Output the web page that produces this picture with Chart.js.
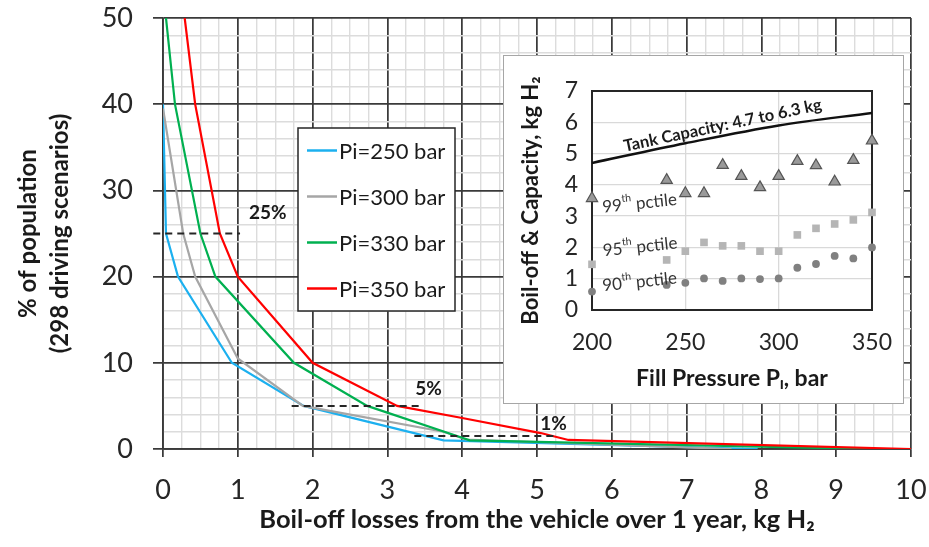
<!DOCTYPE html>
<html>
<head>
<meta charset="utf-8">
<script src="https://cdn.jsdelivr.net/npm/chart.js@4"></script>
<style>
    body { margin: 0; background: #fff; }
    #wrap { position: relative; width: 929px; height: 547px; }
    #inset { position: absolute; left: 503px; top: 55px; width: 401px; height: 349px;
             background: #fff; border: 1px solid #a6a6a6; box-sizing: border-box; }
    #inset canvas { display: block; }
</style>
</head>
<body>
<div id="wrap">
    <canvas id="main_chart" width="929" height="547"></canvas>
    <div id="inset"><canvas id="inset_chart" width="399" height="347"></canvas></div>
</div>
<script>
//// data - main chart (boil-off losses vs % of population)

let seriesLabels = ['Pi=250 bar', 'Pi=300 bar', 'Pi=330 bar', 'Pi=350 bar'];
let seriesColors = ['#1cb0ef', '#a6a6a6', '#00b050', '#ff0000'];

let lossPi250 = [0, 0.04, 0.2, 0.92, 1.88, 3.75, 7.95];
let popPi250 = [40, 25, 20, 10, 5, 1.0, 0];
let lossPi300 = [0, 0.27, 0.43, 1.0, 1.87, 3.75, 4.05, 7.6];
let popPi300 = [39.5, 25, 20, 10.5, 5, 2.0, 1.1, 0];
let lossPi330 = [0.04, 0.16, 0.5, 0.7, 1.75, 2.73, 4.0, 4.1, 9.42];
let popPi330 = [50, 40, 25, 20, 10, 5, 1.3, 1.0, 0];
let lossPi350 = [0.29, 0.43, 0.76, 1.0, 2.0, 3.13, 4.0, 5.05, 5.42, 10];
let popPi350 = [50, 40, 25, 20, 10, 5, 3.6, 1.85, 1.05, 0];

// dashed percentile markers
let markLabels = ['25%', '5%', '1%'];
let markLevels = [25, 5, 1.5];
let markFrom = [-0.13, 1.72, 3.36];
let markTo = [1.03, 3.44, 5.28];
let markTextX = [1.4, 3.55, 5.22];
let markTextY = [27.4, 7.0, 2.96];

let xTickStep = 0.25;
let yTickStep = 2;

//// data - inset chart (boil-off percentiles vs fill pressure)

let fillPressure = [200, 240, 250, 260, 270, 280, 290, 300, 310, 320, 330, 340, 350];
let pct99 = [3.57, 4.15, 3.73, 3.73, 4.63, 4.28, 3.92, 4.28, 4.76, 4.62, 4.10, 4.79, 5.41];
let pct95 = [1.46, 1.60, 1.88, 2.16, 2.05, 2.05, 1.88, 1.88, 2.40, 2.61, 2.75, 2.88, 3.12];
let pct90 = [0.59, 0.80, 0.87, 1.01, 0.93, 1.01, 0.99, 1.01, 1.35, 1.47, 1.73, 1.65, 2.0];
let capPressure = [200, 250, 300, 350];
let capKg = [4.7, 5.33, 5.9, 6.3];

let FONT = 'Lato, "Open Sans", sans-serif';
let MAJOR = '#3a3a3a';
let MINOR = '#dcdcdc';

function toPoints(xs, ys) {
    let pts = [];
    for (let i = 0; i < xs.length; i++) {
        pts.push({ x: xs[i], y: ys[i] });
    }
    return pts;
}

// keep label overflow from shrinking the plot area
function noScalePadding(scale) {
    scale.paddingLeft = 0;
    scale.paddingRight = 0;
    scale.paddingTop = 0;
    scale.paddingBottom = 0;
}

//// main chart datasets

let lossArrays = [lossPi250, lossPi300, lossPi330, lossPi350];
let popArrays = [popPi250, popPi300, popPi330, popPi350];
let mainDatasets = [];

for (let i = 0; i < seriesLabels.length; i++) {
    mainDatasets.push({
        label: seriesLabels[i],
        data: toPoints(lossArrays[i], popArrays[i]),
        borderColor: seriesColors[i],
        backgroundColor: seriesColors[i],
        borderWidth: 2.2,
        showLine: true,
        pointRadius: 0,
        order: seriesLabels.length - i,
        inLegend: true
    });
}

for (let i = 0; i < markLevels.length; i++) {
    mainDatasets.push({
        label: markLabels[i],
        data: [{ x: markFrom[i], y: markLevels[i] }, { x: markTo[i], y: markLevels[i] }],
        borderColor: '#262626',
        borderWidth: 2,
        borderDash: [7, 5],
        showLine: true,
        pointRadius: 0,
        clip: false,
        order: 0,
        inLegend: false
    });
}

// legend box drawn inside the plot
let legendBox = {
    id: 'legendBox',
    afterDatasetsDraw(chart) {
        let ctx = chart.ctx;
        let left = 298, top = 128, w = 157, h = 183;
        ctx.save();
        ctx.fillStyle = '#fff';
        ctx.fillRect(left, top, w, h);
        ctx.strokeStyle = '#262626';
        ctx.lineWidth = 1.5;
        ctx.strokeRect(left, top, w, h);
        ctx.font = '22px ' + FONT;
        ctx.textBaseline = 'middle';
        ctx.textAlign = 'left';
        let row = 0;
        chart.data.datasets.forEach(function(ds) {
            if (!ds.inLegend) return;
            let y = top + 22.5 + row * 46;
            ctx.strokeStyle = ds.borderColor;
            ctx.lineWidth = 2.5;
            ctx.beginPath();
            ctx.moveTo(left + 9, y);
            ctx.lineTo(left + 39, y);
            ctx.stroke();
            ctx.fillStyle = '#1a1a1a';
            ctx.fillText(ds.label, left + 41, y + 1);
            row++;
        });
        ctx.restore();
    }
};

// percentage labels next to the dashed markers
let markText = {
    id: 'markText',
    afterDatasetsDraw(chart) {
        let ctx = chart.ctx;
        let xs = chart.scales.x, ys = chart.scales.y;
        ctx.save();
        ctx.font = 'bold 19px ' + FONT;
        ctx.fillStyle = '#1a1a1a';
        ctx.textAlign = 'center';
        ctx.textBaseline = 'middle';
        for (let i = 0; i < markLabels.length; i++) {
            ctx.fillText(markLabels[i], xs.getPixelForValue(markTextX[i]), ys.getPixelForValue(markTextY[i]));
        }
        ctx.restore();
    }
};

function isMajorX(v) { return Math.abs(v - Math.round(v)) < 1e-9; }
function isMajorY(v) { return v % 10 === 0; }

new Chart(document.getElementById('main_chart').getContext('2d'), {
    type: 'scatter',
    data: { datasets: mainDatasets },
    options: {
        responsive: false,
        animation: false,
        events: [],
        layout: { padding: { left: 0, right: 18, top: 18, bottom: 0 } },
        plugins: { legend: { display: false }, tooltip: { enabled: false } },
        scales: {
            x: {
                type: 'linear',
                min: 0,
                max: 10,
                afterFit: function(scale) { scale.height = 98; noScalePadding(scale); },
                ticks: {
                    stepSize: xTickStep,
                    autoSkip: false,
                    maxRotation: 0,
                    minRotation: 0,
                    padding: 17,
                    color: '#262626',
                    font: { family: FONT, size: 27 },
                    callback: function(v) { return isMajorX(v) ? String(Math.round(v)) : ''; }
                },
                grid: {
                    color: function(c) { return c.tick && isMajorX(c.tick.value) ? MAJOR : MINOR; },
                    lineWidth: function(c) { return c.tick && isMajorX(c.tick.value) ? 1.75 : 1.4; },
                    tickColor: function(c) { return c.tick && isMajorX(c.tick.value) ? MAJOR : 'rgba(0,0,0,0)'; },
                    tickLength: 8
                },
                border: { display: true, color: MAJOR, width: 1.75 },
                title: {
                    display: true,
                    text: 'Boil-off losses from the vehicle over 1 year, kg H\u2082',
                    color: '#1a1a1a',
                    font: { family: FONT, size: 25.5, weight: 'bold' },
                    padding: { top: 0, bottom: 12 }
                }
            },
            y: {
                type: 'linear',
                min: 0,
                max: 50,
                afterFit: function(scale) { scale.width = 163; noScalePadding(scale); },
                ticks: {
                    stepSize: yTickStep,
                    autoSkip: false,
                    padding: 20,
                    color: '#262626',
                    font: { family: FONT, size: 27 },
                    callback: function(v) { return isMajorY(v) ? String(v) : ''; }
                },
                grid: {
                    color: function(c) { return c.tick && isMajorY(c.tick.value) ? MAJOR : MINOR; },
                    lineWidth: function(c) { return c.tick && isMajorY(c.tick.value) ? 1.75 : 1.4; },
                    tickColor: function(c) { return c.tick && isMajorY(c.tick.value) ? MAJOR : 'rgba(0,0,0,0)'; },
                    tickLength: 10
                },
                border: { display: true, color: MAJOR, width: 1.75 },
                title: {
                    display: true,
                    text: ['% of population', '(298 driving scenarios)'],
                    color: '#1a1a1a',
                    font: { family: FONT, size: 24, weight: 'bold', lineHeight: 1.35 },
                    padding: { top: 12, bottom: 0 }
                }
            }
        }
    },
    plugins: [legendBox, markText]
});

//// inset chart

let insetFrame = {
    id: 'insetFrame',
    beforeDatasetsDraw(chart) {
        let a = chart.chartArea;
        let ctx = chart.ctx;
        ctx.save();
        ctx.strokeStyle = '#262626';
        ctx.lineWidth = 2;
        ctx.strokeRect(a.left, a.top, a.right - a.left, a.bottom - a.top);
        ctx.restore();
    }
};

// draws "99th pctile" style text with a raised "th"
function drawOrdinalLabel(ctx, num, rest, size) {
    let parts = [
        { t: num, s: size, dy: 0 },
        { t: 'th', s: size * 0.62, dy: -size * 0.38 },
        { t: rest, s: size, dy: 0 }
    ];
    let total = 0;
    parts.forEach(function(p) {
        ctx.font = p.s + 'px ' + FONT;
        p.w = ctx.measureText(p.t).width;
        total += p.w;
    });
    let x = -total / 2;
    parts.forEach(function(p) {
        ctx.font = p.s + 'px ' + FONT;
        ctx.fillText(p.t, x, p.dy);
        x += p.w;
    });
}

let insetText = {
    id: 'insetText',
    afterDatasetsDraw(chart) {
        let ctx = chart.ctx;
        let xs = chart.scales.x, ys = chart.scales.y;
        ctx.save();
        ctx.fillStyle = '#1a1a1a';
        ctx.textBaseline = 'middle';
        ctx.textAlign = 'left';

        ctx.save();
        ctx.translate(xs.getPixelForValue(270), ys.getPixelForValue(5.9));
        ctx.rotate(-12 * Math.PI / 180);
        ctx.font = 'bold 16.5px ' + FONT;
        ctx.textAlign = 'center';
        ctx.fillText('Tank Capacity: 4.7 to 6.3 kg', 0, 0);
        ctx.restore();

        let pctNames = ['99', '95', '90'];
        let pctX = [225.5, 225.8, 225.5];
        let pctY = [3.41, 2.02, 0.9];
        ctx.fillStyle = '#333';
        for (let i = 0; i < pctNames.length; i++) {
            ctx.save();
            ctx.translate(xs.getPixelForValue(pctX[i]), ys.getPixelForValue(pctY[i]));
            ctx.rotate(-6 * Math.PI / 180);
            drawOrdinalLabel(ctx, pctNames[i], ' pctile', 17);
            ctx.restore();
        }
        ctx.restore();
    }
};

new Chart(document.getElementById('inset_chart').getContext('2d'), {
    type: 'scatter',
    data: {
        datasets: [
            {
                label: 'Tank Capacity',
                data: toPoints(capPressure, capKg),
                borderColor: '#111',
                borderWidth: 2.5,
                showLine: true,
                cubicInterpolationMode: 'monotone',
                pointRadius: 0,
                order: 0
            },
            {
                label: '99th pctile',
                data: toPoints(fillPressure, pct99),
                pointStyle: 'triangle',
                pointRadius: 6.5,
                backgroundColor: '#9a9a9a',
                borderColor: '#555',
                borderWidth: 1.2,
                clip: false,
                order: 1
            },
            {
                label: '95th pctile',
                data: toPoints(fillPressure, pct95),
                pointStyle: 'rect',
                pointRadius: 5.4,
                backgroundColor: '#b5b5b5',
                borderColor: '#b5b5b5',
                borderWidth: 0,
                clip: false,
                order: 2
            },
            {
                label: '90th pctile',
                data: toPoints(fillPressure, pct90),
                pointStyle: 'circle',
                pointRadius: 3.9,
                backgroundColor: '#808080',
                borderColor: '#808080',
                borderWidth: 0,
                clip: false,
                order: 3
            }
        ]
    },
    options: {
        responsive: false,
        animation: false,
        events: [],
        layout: { padding: { left: 0, right: 31, top: 35, bottom: 0 } },
        plugins: { legend: { display: false }, tooltip: { enabled: false } },
        scales: {
            x: {
                type: 'linear',
                min: 200,
                max: 350,
                afterFit: function(scale) { scale.height = 93; noScalePadding(scale); },
                ticks: {
                    stepSize: 50,
                    padding: 19,
                    maxRotation: 0,
                    color: '#262626',
                    font: { family: FONT, size: 23 }
                },
                grid: { color: '#d9d9d9', lineWidth: 1.3, drawTicks: false },
                border: { display: false },
                title: {
                    display: true,
                    text: 'Fill Pressure P\u1D62, bar',
                    color: '#1a1a1a',
                    font: { family: FONT, size: 23, weight: 'bold' },
                    padding: { top: 0, bottom: 11 }
                }
            },
            y: {
                type: 'linear',
                min: 0,
                max: 7,
                afterFit: function(scale) { scale.width = 88; noScalePadding(scale); },
                ticks: {
                    stepSize: 1,
                    padding: 14,
                    color: '#262626',
                    font: { family: FONT, size: 23 }
                },
                grid: { color: '#d9d9d9', lineWidth: 1.3, drawTicks: false },
                border: { display: false },
                title: {
                    display: true,
                    text: 'Boil-off & Capacity, kg H\u2082',
                    color: '#1a1a1a',
                    font: { family: FONT, size: 22, weight: 'bold' },
                    padding: { top: 14, bottom: 0 }
                }
            }
        }
    },
    plugins: [insetFrame, insetText]
});
</script>
</body>
</html>
